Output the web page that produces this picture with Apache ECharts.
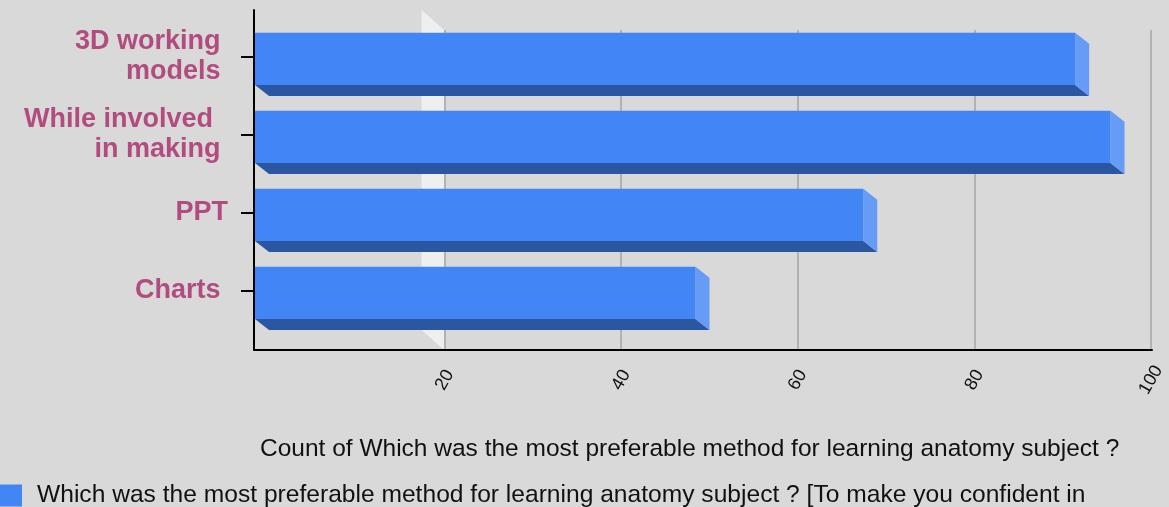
<!DOCTYPE html>
<html>
<head>
<meta charset="utf-8">
<script src="https://cdn.jsdelivr.net/npm/echarts@6/dist/echarts.min.js"></script>
<style>
  html, body { margin: 0; padding: 0; background: #d9d9d9; }
  #main { width: 1169px; height: 507px; }
</style>
</head>
<body>
<div id="main"></div>
<script>
// categories, top to bottom
let categories = ['3D working \nmodels ', 'While involved  \nin making ', 'PPT', 'Charts '];
let counts = [93, 97, 69, 50];
let tickValues = [0, 20, 40, 60, 80, 100];

let seriesName = 'Which was the most preferable method for learning anatomy subject ? [To make you confident in';
let axisTitle = 'Count of Which was the most preferable method for learning anatomy subject ?';

let FRONT = 'rgb(66, 133, 244)';
let BOTTOM = 'rgb(42, 86, 162)';
let SIDE = 'rgb(102, 156, 246)';

let chart = echarts.init(document.getElementById('main'));

// front face on the front plane, depth faces pushed back/down
function renderBar(params, api) {
    let v = api.value(0);
    let idx = api.value(1);
    let p0 = api.coord([0, idx]);
    let p1 = api.coord([v, idx]);
    let band = api.size([0, 1])[1];
    let dx = 14, dy = 11;
    let top = p0[1] - band * 0.31;
    let bot = top + band * 0.67;
    let xl = p0[0] + 1, xr = p1[0];
    return {
        type: 'group',
        children: [{
            type: 'polygon',
            shape: { points: [[xl, bot], [xr, bot], [xr + dx, bot + dy], [xl + dx, bot + dy]] },
            style: { fill: BOTTOM }
        }, {
            type: 'polygon',
            shape: { points: [[xr, top], [xr + dx, top + dy], [xr + dx, bot + dy], [xr, bot]] },
            style: { fill: SIDE }
        }, {
            type: 'rect',
            shape: { x: xl, y: top, width: xr - xl, height: bot - top },
            style: { fill: FRONT }
        }]
    };
}

let option = {
    backgroundColor: '#d9d9d9',
    animation: false,
    textStyle: { fontFamily: 'Liberation Sans, Arial, sans-serif' },
    title: {
        text: axisTitle,
        left: 255,
        top: 432,
        textStyle: { fontSize: 24.5, fontWeight: 'normal', color: '#111' }
    },
    legend: {
        left: 0,
        top: 483,
        padding: 0,
        itemWidth: 22,
        itemHeight: 22,
        icon: 'rect',
        textStyle: { fontSize: 24.6, color: '#111', padding: [0, 0, 0, 10] },
        data: [seriesName]
    },
    grid: [
        // bars (front plane)
        { left: 254, right: 32, top: 18, height: 312 },
        // back wall with grid lines
        { left: 268, right: 18, top: 30, bottom: 157 },
        // front axis lines
        { left: 254, right: 17, top: 10, bottom: 157 }
    ],
    xAxis: [{
        gridIndex: 0,
        type: 'value',
        min: 0, max: 100, interval: 20,
        show: false
    }, {
        gridIndex: 1,
        type: 'value',
        min: 0, max: 100, interval: 20,
        axisLine: { show: false },
        axisTick: { show: false },
        splitLine: { show: true, showMinLine: false, lineStyle: { color: '#a4a4a4', width: 1.5 } },
        axisLabel: {
            rotate: 60,
            align: 'center',
            verticalAlign: 'middle',
            margin: 30,
            fontSize: 18,
            color: '#111',
            formatter: function (val) {
                return tickValues.indexOf(val) > 0 ? String(val) : '';
            }
        }
    }, {
        gridIndex: 2,
        type: 'value',
        min: 0, max: 100,
        axisLine: { show: true, lineStyle: { color: '#000', width: 2 } },
        axisTick: { show: false },
        axisLabel: { show: false },
        splitLine: { show: false }
    }],
    yAxis: [{
        gridIndex: 0,
        type: 'category',
        inverse: true,
        data: categories,
        axisLine: { show: false },
        axisTick: { show: true, alignWithLabel: true, length: 13, lineStyle: { color: '#000', width: 2 } },
        axisLabel: {
            margin: 26,
            fontSize: 27,
            fontWeight: 'bold',
            lineHeight: 30,
            color: '#b24c7f',
            align: 'right'
        }
    }, {
        gridIndex: 1,
        type: 'value',
        show: false
    }, {
        gridIndex: 2,
        type: 'value',
        axisLine: { show: true, lineStyle: { color: '#000', width: 2 } },
        axisTick: { show: false },
        axisLabel: { show: false },
        splitLine: { show: false }
    }],
    series: [{
        name: seriesName,
        type: 'custom',
        xAxisIndex: 0,
        yAxisIndex: 0,
        z: 5,
        itemStyle: { color: FRONT },
        renderItem: renderBar,
        encode: { x: 0, y: 1 },
        data: counts.map(function (c, i) { return [c, i]; })
    }]
};

chart.setOption(option);

// pale side wall drawn at the 20 grid line
let wx = chart.convertToPixel({ xAxisIndex: 1 }, 20);
chart.setOption({
    graphic: [{
        type: 'polygon',
        z: -1,
        shape: { points: [[wx - 23, 10], [wx - 0.5, 30], [wx - 0.5, 350], [wx - 23, 330]] },
        style: { fill: '#efefef' }
    }]
});
</script>
</body>
</html>
